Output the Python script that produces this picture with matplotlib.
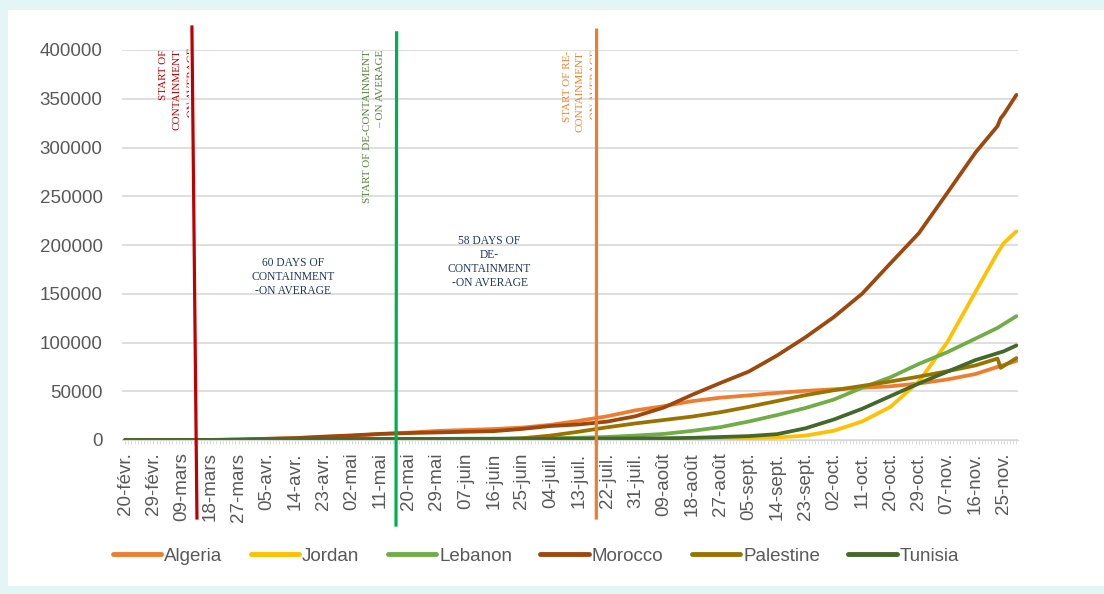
import matplotlib
matplotlib.use("Agg")
import matplotlib.pyplot as plt
from matplotlib.patches import Rectangle, PathPatch
from matplotlib.transforms import Bbox, Affine2D
from matplotlib.textpath import TextPath
from matplotlib.font_manager import FontProperties

# jours depuis le 20 fevrier 2020
jours = [0, 9, 18, 27, 36, 45, 54, 63, 72, 81, 90, 99, 108, 117, 126, 135,
         144, 153, 162, 171, 180, 189, 198, 207, 216, 225, 234, 243, 252,
         261, 270, 277, 278, 279, 283]

algeria = [0, 1, 20, 74, 409, 1320, 2070, 3007, 4295, 6067, 7542, 9267,
           10265, 11268, 12685, 15500, 19689, 24278, 30394, 34693, 39847,
           43403, 45773, 48254, 50400, 51995, 53584, 55081, 57942, 62051,
           67679, 75000, 76000, 77000, 81212]
jordan = [0, 0, 0, 69, 212, 358, 397, 447, 460, 582, 672, 739, 808, 979,
          1132, 1164, 1176, 1201, 1223, 1259, 1378, 1532, 1966, 2600, 4500,
          9500, 19000, 34000, 60000, 100000, 152000, 192000, 197000, 202000,
          214000]
lebanon = [0, 3, 41, 133, 391, 527, 641, 696, 737, 845, 954, 1168, 1320,
           1446, 1662, 1873, 2334, 3104, 4555, 6223, 9337, 13155, 18963,
           25569, 32819, 41444, 53568, 64336, 78000, 90000, 104000, 115000,
           117000, 119000, 127000]
morocco = [0, 0, 2, 54, 345, 1120, 1888, 3446, 4729, 6281, 7133, 7714, 8437,
           9074, 11338, 14329, 15936, 18834, 24322, 33237, 46313, 58489,
           70160, 86686, 105346, 126044, 150034, 181227, 212038, 253219,
           294826, 322000, 330000, 334000, 354000]
palestine = [0, 0, 20, 44, 97, 254, 300, 340, 350, 380, 420, 450, 500, 700,
             1800, 4500, 8500, 13000, 17000, 20500, 24000, 28500, 34000,
             40000, 46000, 51000, 55500, 60000, 65000, 70500, 76500, 83500,
             74000, 76000, 84000]
tunisia = [0, 0, 2, 29, 227, 574, 747, 918, 990, 1032, 1045, 1071, 1087,
           1128, 1172, 1188, 1327, 1455, 1584, 1776, 2205, 3069, 4000, 6000,
           12000, 21000, 32000, 45000, 58000, 70000, 82000, 89000, 90000,
           91000, 97000]

pays = ["Algeria", "Jordan", "Lebanon", "Morocco", "Palestine", "Tunisia"]
series = [algeria, jordan, lebanon, morocco, palestine, tunisia]
couleurs = ["#ED7D31", "#FFC000", "#70AD47", "#9E480E", "#997300", "#43682B"]

ticks_jours = list(range(0, 280, 9))
ticks_labels = ["20-févr.", "29-févr.", "09-mars", "18-mars", "27-mars",
                "05-avr.", "14-avr.", "23-avr.", "02-mai", "11-mai", "20-mai",
                "29-mai", "07-juin", "16-juin", "25-juin", "04-juil.",
                "13-juil.", "22-juil.", "31-juil.", "09-août", "18-août",
                "27-août", "05-sept.", "14-sept.", "23-sept.", "02-oct.",
                "11-oct.", "20-oct.", "29-oct.", "07-nov.", "16-nov.",
                "25-nov."]

W, H = 1104, 594
fig = plt.figure(figsize=(W / 100, H / 100), dpi=100)
fig.patch.set_facecolor("#E3F5F5")
fig.patches.append(Rectangle((8 / W, 8 / H), 1, 1 - 18 / H,
                             transform=fig.transFigure, facecolor="white",
                             edgecolor="none", zorder=-1))

ax = fig.add_axes([122 / W, 1 - 440 / H, 896 / W, 390 / H])
ax.set_facecolor("white")

for nom, y, c in zip(pays, series, couleurs):
    ax.plot(jours, y, color=c, lw=2.7, label=nom, solid_capstyle="round")

ax.set_xlim(-1, 283.5)
ax.set_ylim(0, 400000)
ax.set_yticks(range(0, 400001, 50000))
ax.grid(axis="y", color="#D9D9D9", lw=1.2)
ax.set_axisbelow(True)
for s in ["top", "right", "left"]:
    ax.spines[s].set_visible(False)
ax.spines["bottom"].set_color("#D9D9D9")

ax.set_xticks(ticks_jours)
ax.set_xticklabels(ticks_labels, rotation=90)
ax.set_xticks(range(0, 284), minor=True)
ax.tick_params(axis="x", which="both", length=3, color="#D9D9D9",
               labelsize=13.5, labelcolor="#595959", pad=6)
ax.tick_params(axis="y", length=0, pad=14, labelsize=13.5,
               labelcolor="#595959")
for lab in ax.get_xticklabels() + ax.get_yticklabels():
    lab.set_fontfamily("Liberation Sans")

# lignes des periodes de confinement
tr = ax.get_xaxis_transform()
ax.plot([21.2, 22.8], [1.059, -0.2], transform=tr, clip_on=False,
        color="#C00000", lw=2.3, zorder=5)
ax.plot([86.2, 86.0], [1.044, -0.218], transform=tr, clip_on=False,
        color="#00B050", lw=2.3, zorder=5)
ax.plot([149.7, 149.6], [1.051, -0.2], transform=tr, clip_on=False,
        color="#ED7D31", lw=2.3, zorder=5)

serif = "Liberation Serif"


def texte_vertical(lignes, xs, haut, couleur):
    # une ligne par colonne, fin de ligne alignee en haut (pixels)
    for s, x in zip(lignes, xs):
        fig.text(x / W, 1 - haut / H, s, rotation=90, ha="center", va="top",
                 fontsize=8, family=serif, color=couleur, zorder=6)


def ligne_coupee(s, x_base, haut, x_coupe, couleur):
    # derniere ligne qui deborde de sa zone de texte : seul le haut se voit
    tp = TextPath((0, 0), s, prop=FontProperties(family=serif, size=8))
    longueur = tp.get_extents().x1 * 100 / 72
    t = (Affine2D().scale(100 / 72).rotate_deg(90)
         .translate(x_base, H - haut - longueur))
    p = PathPatch(tp, transform=t, facecolor=couleur, edgecolor="none",
                  zorder=6)
    fig.add_artist(p)
    p.set_clip_on(True)
    p.set_clip_box(Bbox.from_extents(0, 0, x_coupe, H))


texte_vertical(["START OF", "CONTAINMENT"], [163, 177], 49, "#C00000")
ligne_coupee("– ON AVERAGE", 194, 49, 188.5, "#C00000")
texte_vertical(["START OF DE-CONTAINMENT", "– ON AVERAGE"], [368, 381], 50,
               "#548235")
texte_vertical(["START OF RE-", "CONTAINMENT"], [567, 580], 51, "#F4812E")
ligne_coupee("– ON AVERAGE", 597, 51, 591.5, "#F4812E")

ax.text(53.3, 0.418, "60 DAYS OF\nCONTAINMENT\n-ON AVERAGE", transform=tr,
        ha="center", va="center", multialignment="center", fontsize=8.3,
        family=serif, color="#1F3864", zorder=6)
ax.text(115.7, 0.456, "58 DAYS OF\nDE-\nCONTAINMENT\n-ON AVERAGE",
        transform=tr, ha="center", va="center", multialignment="center",
        fontsize=8.3, family=serif, color="#1F3864", zorder=6)

leg = fig.legend(loc="center", bbox_to_anchor=(536 / W, 1 - 556 / H),
                 ncol=6, frameon=False, handlelength=2.6, handletextpad=0.15,
                 columnspacing=1.5, prop={"family": "Liberation Sans",
                                          "size": 13.5})
for t in leg.get_texts():
    t.set_color("#595959")
for l in leg.get_lines():
    l.set_linewidth(3.5)

fig.savefig("out.png", dpi=100, facecolor=fig.get_facecolor())
